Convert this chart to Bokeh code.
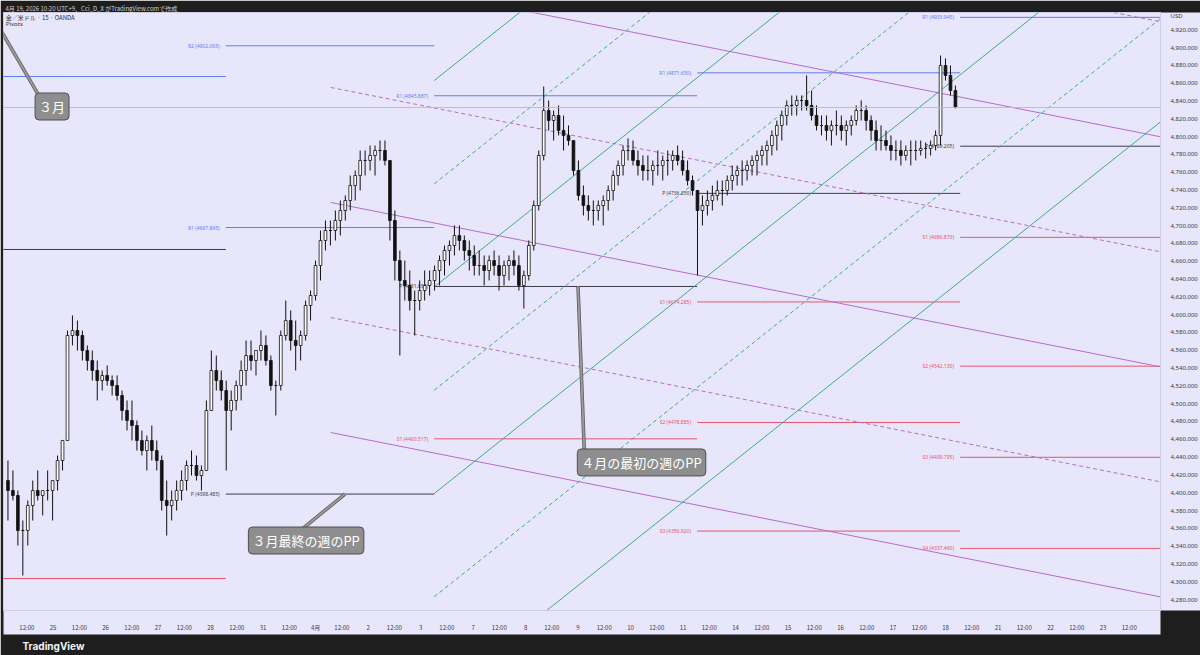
from bokeh.plotting import figure
from bokeh.models import Range1d, FixedTicker, NumeralTickFormatter, Label, Title, Span, ColumnDataSource
from bokeh.core.properties import value
from bokeh.embed import file_html
from bokeh.resources import INLINE

# ---- time axis (trading-day units; day boundaries on integers) ----
day_labels = ["25", "26", "27", "28", "31", "4月", "2", "3", "7", "8", "9",
              "10", "11", "14", "15", "16", "17", "18", "21", "22", "23"]

# ---- XAUUSD candles, one every ~2.3 h of trading ----
first_open = 4413.7
highs = [
    4436.2, 4425.0, 4402.5, 4368.8, 4391.3, 4413.7, 4425.0, 4402.5, 4425.0, 4413.7,
    4441.8, 4458.7, 4582.2, 4599.1, 4593.4, 4582.2, 4565.4, 4559.7, 4548.5, 4537.3,
    4542.9, 4531.7, 4531.7, 4514.8, 4503.6, 4503.6, 4481.1, 4469.9, 4464.3, 4475.5,
    4458.7, 4441.8, 4413.7, 4402.5, 4413.7, 4425.0, 4436.2, 4447.4, 4441.8, 4430.6,
    4503.6, 4559.7, 4554.1, 4537.3, 4526.0, 4514.8, 4526.0, 4548.5, 4571.0, 4571.0,
    4559.7, 4582.2, 4576.6, 4554.1, 4526.0, 4582.2, 4615.9, 4604.7, 4593.4, 4582.2,
    4615.9, 4627.1, 4660.8, 4694.5, 4705.8, 4705.8, 4717.0, 4728.2, 4733.9, 4756.3,
    4761.9, 4784.4, 4784.4, 4790.0, 4790.0, 4795.6, 4795.6, 4767.6, 4717.0, 4672.1,
    4660.8, 4649.6, 4627.1, 4638.4, 4649.6, 4649.6, 4655.2, 4666.5, 4677.7, 4683.3,
    4700.2, 4700.2, 4688.9, 4683.3, 4677.7, 4672.1, 4666.5, 4666.5, 4672.1, 4666.5,
    4660.8, 4666.5, 4672.1, 4666.5, 4649.6, 4683.3, 4728.2, 4784.4, 4856.3, 4840.6,
    4829.3, 4835.0, 4823.7, 4812.5, 4795.6, 4773.2, 4745.1, 4733.9, 4728.2, 4728.2,
    4733.9, 4745.1, 4761.9, 4773.2, 4790.0, 4797.9, 4795.6, 4784.4, 4778.8, 4778.8,
    4773.2, 4784.4, 4778.8, 4784.4, 4784.4, 4790.0, 4784.4, 4773.2, 4756.3, 4733.9,
    4733.9, 4739.5, 4745.1, 4750.7, 4750.7, 4756.3, 4767.6, 4767.6, 4773.2, 4773.2,
    4778.8, 4784.4, 4790.0, 4795.6, 4806.9, 4818.1, 4829.3, 4840.6, 4846.2, 4846.2,
    4846.2, 4868.7, 4851.8, 4835.0, 4823.7, 4823.7, 4818.1, 4829.3, 4823.7, 4818.1,
    4823.7, 4835.0, 4840.6, 4835.0, 4823.7, 4818.1, 4812.5, 4806.9, 4801.3, 4795.6,
    4795.6, 4790.0, 4795.6, 4795.6, 4795.6, 4793.4, 4795.6, 4806.9, 4891.1, 4887.8,
    4879.9, 4857.4]
lows = [
    4368.8, 4391.3, 4340.7, 4307.0, 4340.7, 4368.8, 4391.3, 4374.4, 4391.3, 4368.8,
    4402.5, 4425.0, 4458.7, 4565.4, 4559.7, 4548.5, 4537.3, 4526.0, 4503.6, 4514.8,
    4520.4, 4509.2, 4503.6, 4481.1, 4469.9, 4458.7, 4447.4, 4441.8, 4425.0, 4436.2,
    4425.0, 4380.0, 4351.9, 4368.8, 4380.0, 4391.3, 4402.5, 4419.3, 4413.7, 4402.5,
    4425.0, 4492.4, 4514.8, 4503.6, 4425.0, 4469.9, 4492.4, 4503.6, 4520.4, 4537.3,
    4531.7, 4548.5, 4542.9, 4514.8, 4486.7, 4514.8, 4571.0, 4559.7, 4537.3, 4548.5,
    4571.0, 4593.4, 4615.9, 4638.4, 4672.1, 4677.7, 4683.3, 4688.9, 4705.8, 4717.0,
    4728.2, 4739.5, 4756.3, 4761.9, 4756.3, 4773.2, 4767.6, 4683.3, 4638.4, 4554.1,
    4615.9, 4604.7, 4576.6, 4604.7, 4615.9, 4621.5, 4627.1, 4632.8, 4644.0, 4655.2,
    4666.5, 4672.1, 4660.8, 4649.6, 4644.0, 4644.0, 4632.8, 4638.4, 4644.0, 4627.1,
    4632.8, 4638.4, 4644.0, 4627.1, 4606.9, 4638.4, 4672.1, 4717.0, 4773.2, 4806.9,
    4795.6, 4801.3, 4784.4, 4790.0, 4756.3, 4728.2, 4711.4, 4705.8, 4700.2, 4705.8,
    4700.2, 4717.0, 4728.2, 4745.1, 4756.3, 4773.2, 4767.6, 4756.3, 4750.7, 4750.7,
    4745.1, 4756.3, 4750.7, 4756.3, 4761.9, 4767.6, 4756.3, 4745.1, 4733.9, 4644.0,
    4700.2, 4711.4, 4717.0, 4728.2, 4722.6, 4733.9, 4739.5, 4745.1, 4745.1, 4750.7,
    4756.3, 4756.3, 4767.6, 4767.6, 4778.8, 4784.4, 4795.6, 4812.5, 4823.7, 4823.7,
    4829.3, 4829.3, 4818.1, 4806.9, 4801.3, 4795.6, 4790.0, 4801.3, 4795.6, 4790.0,
    4801.3, 4812.5, 4818.1, 4806.9, 4795.6, 4784.4, 4784.4, 4784.4, 4773.2, 4773.2,
    4767.6, 4773.2, 4767.6, 4773.2, 4778.8, 4775.4, 4778.8, 4784.4, 4790.0, 4863.0,
    4846.2, 4831.6]
closes = [
    4402.5, 4396.9, 4357.6, 4357.6, 4385.6, 4402.5, 4396.9, 4402.5, 4402.5, 4413.7,
    4436.2, 4458.7, 4576.6, 4582.2, 4576.6, 4559.7, 4548.5, 4537.3, 4526.0, 4531.7,
    4526.0, 4520.4, 4509.2, 4492.4, 4481.1, 4475.5, 4458.7, 4447.4, 4458.7, 4447.4,
    4436.2, 4391.3, 4385.6, 4391.3, 4402.5, 4413.7, 4430.6, 4430.6, 4419.3, 4425.0,
    4492.4, 4537.3, 4526.0, 4514.8, 4492.4, 4503.6, 4520.4, 4537.3, 4554.1, 4548.5,
    4559.7, 4565.4, 4548.5, 4520.4, 4520.4, 4576.6, 4593.4, 4571.0, 4565.4, 4576.6,
    4610.3, 4621.5, 4655.2, 4683.3, 4694.5, 4694.5, 4705.8, 4717.0, 4728.2, 4745.1,
    4756.3, 4773.2, 4773.2, 4778.8, 4784.4, 4784.4, 4773.2, 4705.8, 4660.8, 4638.4,
    4632.8, 4615.9, 4615.9, 4627.1, 4632.8, 4638.4, 4649.6, 4660.8, 4672.1, 4677.7,
    4688.9, 4683.3, 4672.1, 4666.5, 4655.2, 4655.2, 4649.6, 4660.8, 4655.2, 4644.0,
    4655.2, 4660.8, 4655.2, 4632.8, 4644.0, 4677.7, 4722.6, 4778.8, 4829.3, 4818.1,
    4823.7, 4806.9, 4801.3, 4795.6, 4761.9, 4733.9, 4722.6, 4717.0, 4717.0, 4722.6,
    4728.2, 4739.5, 4756.3, 4767.6, 4784.4, 4784.4, 4773.2, 4767.6, 4761.9, 4761.9,
    4767.6, 4767.6, 4773.2, 4773.2, 4778.8, 4773.2, 4761.9, 4750.7, 4739.5, 4717.0,
    4722.6, 4728.2, 4733.9, 4739.5, 4739.5, 4750.7, 4756.3, 4761.9, 4761.9, 4767.6,
    4773.2, 4778.8, 4784.4, 4790.0, 4801.3, 4812.5, 4823.7, 4835.0, 4835.0, 4840.6,
    4840.6, 4835.0, 4823.7, 4812.5, 4812.5, 4806.9, 4812.5, 4812.5, 4806.9, 4812.5,
    4818.1, 4829.3, 4829.3, 4818.1, 4806.9, 4795.6, 4795.6, 4790.0, 4784.4, 4784.4,
    4778.8, 4784.4, 4784.4, 4784.4, 4786.7, 4786.7, 4790.0, 4801.3, 4879.9, 4868.7,
    4851.8, 4832.7]
bar_days = 0.0945      # candle spacing in trading days
first_bar = 0.14       # centre of the first visible candle

# ---- weekly pivots: (week start, week end, [(name, level)]) ----
pivot_weeks = [
    (-1.0, 4.29, [("R1", 4867.5), ("P", 4673.2), ("S1", 4303.6)]),
    (4.29, 8.26, [("R2", 4902.005), ("R1", 4697.845), ("P", 4398.485)]),
    (8.26, 13.27, [("R1", 4845.887), ("P", 4631.658), ("S1", 4460.517)]),
    (13.27, 18.28, [("R1", 4871.650), ("P", 4736.250), ("S1", 4614.285),
                    ("S2", 4478.885), ("S3", 4356.920)]),
    (18.28, 22.2, [("R1", 4933.945), ("P", 4789.205), ("S1", 4686.870),
                   ("S2", 4542.130), ("S3", 4439.795), ("S4", 4337.460)]),
]

# ---- descending (violet) channel ----
violet_start, violet_price, violet_slope = 6.29, 4726.0, -11.68
violet_offsets = [387.6, 258.4, 129.2, 0.0, -129.2, -258.4]
violet_dashed = [True, False, True, False, True, False]

# ---- ascending (teal) channel ----
teal_start, teal_price, teal_slope = 8.26, 4399.1, 46.94
teal_offsets = [463.9, 347.9, 232.0, 116.0, 0.0, -116.0, -232.0]
teal_dashed = [False, True, False, True, False, True, False]

# ---- callouts: text, box centre (day, price), pointer ends ----
callouts = [
    ("３月", 0.98, 4833.8, (-0.05, 4925.0), (0.74, 4845.0)),
    ("３月最終の週のPP", 5.82, 4346.3, (5.72, 4358.0), (6.56, 4398.5)),
    ("４月の最初の週のPP", 12.21, 4434.0, (11.12, 4445.0), (11.0, 4631.7)),
]

BG = "#e8e6fa"
FRAME = "#1e1e1e"
JP = "Noto Sans CJK JP"
X0, X1 = 0.055, 22.096
CURRENCY_ROW = 4935.5   # price-scale row that carries the currency caption

p = figure(width=1200, height=655, output_backend="svg", toolbar_location=None,
           x_range=Range1d(X0, X1), y_range=Range1d(4267.7, 4939.4),
           y_axis_location="right",
           min_border_left=3, min_border_right=31, min_border_top=12, min_border_bottom=45,
           background_fill_color=BG, border_fill_color=FRAME, outline_line_color="#cfcde2")
p.grid.visible = False

# price axis
p.yaxis.ticker = FixedTicker(ticks=list(range(4280, 4921, 20)) + [CURRENCY_ROW])
p.yaxis.formatter = NumeralTickFormatter(format="0,0.000")
p.yaxis.major_label_overrides = {CURRENCY_ROW: "USD"}
p.yaxis.major_label_text_font_size = "6px"
p.yaxis.major_label_text_color = "#3a3a3a"
p.yaxis.major_label_text_font = "Noto Sans"
p.yaxis.major_tick_line_color = None
p.yaxis.minor_tick_line_color = None
p.yaxis.axis_line_color = "#cfcde2"
p.yaxis.major_label_standoff = 4
p.yaxis.background_fill_color = BG

# time axis
ticks, overrides = [], {}
for i, lab in enumerate(day_labels):
    d = i + 1
    ticks += [d - 0.5, d]
    overrides[d - 0.5] = "12:00"
    overrides[d] = lab
ticks.append(len(day_labels) + 0.5)
overrides[len(day_labels) + 0.5] = "12:00"
p.xaxis.ticker = FixedTicker(ticks=ticks)
p.xaxis.major_label_overrides = overrides
p.xaxis.major_label_text_font_size = "6px"
p.xaxis.major_label_text_color = "#3a3a3a"
p.xaxis.major_label_text_font = JP
p.xaxis.major_tick_line_color = None
p.xaxis.minor_tick_line_color = None
p.xaxis.axis_line_color = "#cfcde2"
p.xaxis.major_label_standoff = 6
p.xaxis.background_fill_color = BG

# header / footer
p.title.text = "4月 19, 2026 10:20 UTC+9、Cci_D_X がTradingView.comで作成"
p.title.text_color = "#d0d0d0"
p.title.text_font_size = "6px"
p.title.text_font = JP
p.title.text_font_style = "normal"
p.title.standoff = 0
p.title.offset = 2
p.add_layout(Title(text="TradingView", text_color="#f2f2f2", text_font_size="10px",
                   text_font="Inter", text_font_style="bold", offset=19, standoff=6), "below")

# pivots
seg = dict(x0=[], x1=[], y=[], color=[])
lab = dict(x=[], y=[], text=[], color=[])
pcol = {"R": "#5c7ff0", "P": "#3c3c48", "S": "#e4566e"}
for w0, w1, levels in pivot_weeks:
    for name, lvl in levels:
        c = pcol[name[0]]
        seg["x0"].append(w0); seg["x1"].append(w1); seg["y"].append(lvl); seg["color"].append(c)
        if w0 - 0.7 > X0:  # label sits left of the week's first bar
            lab["x"].append(w0 - 0.12); lab["y"].append(lvl)
            lab["text"].append(f"{name} ({lvl:.3f})"); lab["color"].append(c)
p.segment(x0="x0", y0="y", x1="x1", y1="y", line_color="color", line_width=1,
          source=ColumnDataSource(seg))
p.text(x="x", y="y", text="text", text_color="color", text_font_size="5px",
       text_align="right", text_baseline="middle", text_font=value("Noto Sans"),
       source=ColumnDataSource(lab))

# channels
x_end = 22.2
for off, dashed in zip(violet_offsets, violet_dashed):
    y0 = violet_price + off
    y1 = y0 + violet_slope * (x_end - violet_start)
    p.line([violet_start, x_end], [y0, y1], line_color="#b66cc9", line_width=1,
           line_dash="4 3" if dashed else "solid")
for off, dashed in zip(teal_offsets, teal_dashed):
    y0 = teal_price + off
    y1 = y0 + teal_slope * (x_end - teal_start)
    p.line([teal_start, x_end], [y0, y1], line_color="#3aa8a0", line_width=1,
           line_dash="4 3" if dashed else "solid")

# last price line
p.add_layout(Span(location=closes[-1], dimension="width", line_color="#f0a0b4",
                  line_width=1, line_alpha=0.9))

# candles
n = len(closes)
xs = [first_bar + bar_days * i for i in range(n)]
opens = [first_open] + closes[:-1]
src = ColumnDataSource(dict(
    x=xs,
    h=[max(h, o, c) for h, o, c in zip(highs, opens, closes)],
    l=[min(l, o, c) for l, o, c in zip(lows, opens, closes)],
    top=[max(o, c) for o, c in zip(opens, closes)],
    bot=[min(o, c) for o, c in zip(opens, closes)],
    fill=["#ffffff" if c >= o else "#111111" for o, c in zip(opens, closes)]))
p.segment(x0="x", y0="l", x1="x", y1="h", line_color="#111111", line_width=1, source=src)
p.vbar(x="x", width=bar_days * 0.55, top="top", bottom="bot", fill_color="fill",
       line_color="#111111", line_width=0.8, source=src)

# callouts
for text, cx, cy, (px0, py0), (px1, py1) in callouts:
    p.line([px0, px1], [py0, py1], line_color="#5a5a5a", line_width=3.5)
    p.line([px0, px1], [py0, py1], line_color="#9a9a9a", line_width=2)
    p.add_layout(Label(x=cx, y=cy, text=text, text_align="center", text_baseline="middle",
                       text_color="#ffffff", text_font_size="13px", text_font=JP,
                       background_fill_color="#8e8e8e", border_line_color="#505050",
                       border_line_width=1, padding=4, border_radius=4))

# symbol legend, top-left
p.add_layout(Label(x=0.1, y=4934.0, text="金／米ドル · 15 · OANDA", text_font_size="6px",
                   text_color="#333333", text_font=JP, text_baseline="middle"))
p.add_layout(Label(x=0.1, y=4926.0, text="Pivots", text_font_size="6px",
                   text_color="#333333", text_font="Noto Sans", text_baseline="middle"))

open("out.html", "w").write(file_html(p, INLINE))
